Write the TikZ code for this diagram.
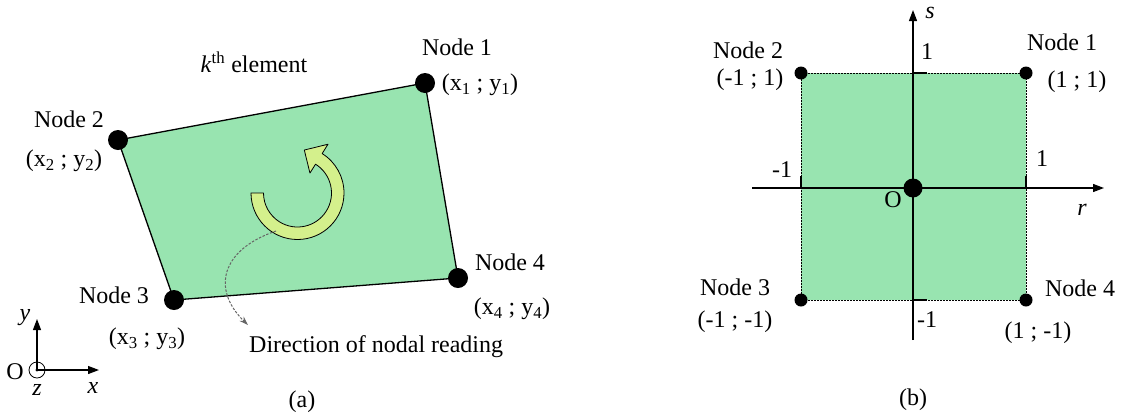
\documentclass[tikz,border=0pt]{standalone}
\usepackage{fontspec}
\setmainfont{Liberation Serif}
\usetikzlibrary{calc,positioning,arrows.meta}
\definecolor{elemgreen}{RGB}{152,228,176}
\definecolor{turngreen}{RGB}{212,240,140}

\begin{document}
\begin{tikzpicture}[x=1pt, y=-1pt,
  every node/.style={font=\fontsize{24}{28}\selectfont, inner sep=0pt},
  bigdot/.style={circle, fill=black, minimum size=20pt},
  smalldot/.style={circle, fill=black, minimum size=13pt},
  axis/.style={line width=1.2pt, -{Triangle[length=11pt, width=8pt]}}]
  \useasboundingbox (0,0) rectangle (1123,416);

  % (a) k-th element
  \coordinate (c1) at (425,83);
  \coordinate (c2) at (118,140);
  \coordinate (c3) at (174,300);
  \coordinate (c4) at (458,278);
  \filldraw[fill=elemgreen, line width=1.3pt] (c1) -- (c2) -- (c3) -- (c4) -- cycle;

  % Reading direction
  \coordinate (turn) at (297.5,193);
  \filldraw[fill=turngreen, line width=0.8pt, line join=round]
    ($(turn)+(180:46.5)$) arc[start angle=180, end angle=-58, radius=46.5]
    -- ($(turn)+(-58:57.5)$) -- ($(turn)+(-81:43.5)$) -- ($(turn)+(-58:23.5)$)
    -- ($(turn)+(-58:34)$) arc[start angle=-58, end angle=180, radius=34] -- cycle;
  \coordinate (dirstart) at (276,231);
  \coordinate (dirtip) at (248,325);
  \node[anchor=west] (dir) at (249,347) {Direction of nodal reading};
  \draw[black!60, line width=1pt, dash pattern=on 2.5pt off 1.5pt, -{Stealth[length=9pt, width=6pt]}]
    (dirstart) .. controls (220,250) and (212,290) .. (dirtip);

  % Nodes
  \node[bigdot] (n1) at (c1) {};
  \node[bigdot] (n2) at (c2) {};
  \node[bigdot] (n3) at (c3) {};
  \node[bigdot] (n4) at (c4) {};
  \node (n1name) at (457,47) {Node 1};
  \node (n1xy) at (480,85) {(x\textsubscript{1} ; y\textsubscript{1})};
  \node (n2name) at (69,119) {Node 2};
  \node (n2xy) at (64,161) {(x\textsubscript{2} ; y\textsubscript{2})};
  \node (n3name) at (114,295) {Node 3};
  \node (n3xy) at (147,339) {(x\textsubscript{3} ; y\textsubscript{3})};
  \node (n4name) at (510,262) {Node 4};
  \node (n4xy) at (512,309) {(x\textsubscript{4} ; y\textsubscript{4})};
  \node (elem) at (254,62) {\textit{k}\textsuperscript{th} element};

  % Global axes
  \node[circle, draw, line width=0.8pt, minimum size=16pt] (ga) at (37,370) {};
  \fill (ga.center) circle (1.6pt);
  \coordinate (gy) at (37,319);
  \coordinate (gx) at (99,370);
  \draw[axis] (ga.center) -- (gy);
  \draw[axis] (ga.center) -- (gx);
  \node (gaO) at (15,372) {O};
  \node (gay) at (25,318) {\textit{y}};
  \node (gaz) at (37,390) {\textit{z}};
  \node (gax) at (93,388) {\textit{x}};
  \node (capa) at (302,402) {(a)};

  % (b) reference element
  \coordinate (q1) at (1026,73);
  \coordinate (q2) at (801,73);
  \coordinate (q3) at (801,300);
  \coordinate (q4) at (1026,300);
  \fill[elemgreen] (q1) -- (q2) -- (q3) -- (q4) -- cycle;
  \draw[line width=0.7pt, dash pattern=on 2pt off 1pt] (q1) -- (q2) -- (q3) -- (q4) -- cycle;

  % Axes r, s
  \coordinate (rbeg) at (752,188);
  \coordinate (rend) at (1104,188);
  \coordinate (sbeg) at (913,340);
  \coordinate (send) at (913,10);
  \draw[axis] (rbeg) -- (rend);
  \draw[axis] (sbeg) -- (send);
  \draw[line width=1.6pt] (913,73) -- (927,73);
  \draw[line width=1.6pt] (913,300) -- (927,300);
  \draw[line width=1.6pt] (801,188) -- (801,176);
  \draw[line width=1.6pt] (1026,188) -- (1026,176);
  \node (rlab) at (1082,210) {\textit{r}};
  \node (slab) at (930,13) {\textit{s}};
  \node (sone) at (927,52) {1};
  \node (smone) at (927,320) {-1};
  \node (rone) at (1042,159) {1};
  \node (rmone) at (782,170) {-1};

  % Nodes
  \node[smalldot] (m1) at (q1) {};
  \node[smalldot] (m2) at (q2) {};
  \node[smalldot] (m3) at (q3) {};
  \node[smalldot] (m4) at (q4) {};
  \node[bigdot, minimum size=19pt] (orig) at (913,188) {};
  \node (origO) at (893,200) {O};
  \node (m1name) at (1062,42) {Node 1};
  \node (m1rs) at (1077,82) {(1 ; 1)};
  \node (m2name) at (748,50) {Node 2};
  \node (m2rs) at (750,80) {(-1 ; 1)};
  \node (m3name) at (735,287) {Node 3};
  \node (m3rs) at (735,322) {(-1 ; -1)};
  \node (m4name) at (1080,288) {Node 4};
  \node (m4rs) at (1038,333) {(1 ; -1)};
  \node (capb) at (913,400) {(b)};
\end{tikzpicture}
\end{document}
